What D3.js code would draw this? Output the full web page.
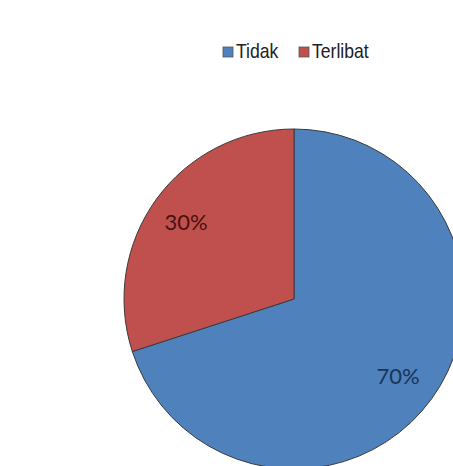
<!DOCTYPE html>
<html lang="en">
<head>
    <meta charset="UTF-8">
    <script src="https://d3js.org/d3.v7.min.js"></script>
    <title>Pie</title>
    <style>
        body { margin: 0; background: #fff; }
    </style>
</head>
<body>
    <script>
        var categories = ["Tidak", "Terlibat"]
        var values = [70, 30]
        var labels = ["70%", "30%"]
        var colors = ["#4F81BD", "#C0504D"]
        var labelColors = ["#18345a", "#4a1010"]

        var width = 453, height = 466
        var cx = 294, cy = 299, r = 170

        var svg = d3.select("body")
            .append("svg")
            .attr("width", width)
            .attr("height", height)

        var data = categories.map(function (c, i) {
            return { name: c, value: values[i], label: labels[i], color: colors[i], tc: labelColors[i] }
        })

        var pie = d3.pie().sort(null).value(function (d) { return d.value })
        var arc = d3.arc().innerRadius(0).outerRadius(r)
        var labelArc = d3.arc().innerRadius(131).outerRadius(131)

        var g = svg.append("g").attr("transform", "translate(" + cx + "," + cy + ")")

        g.selectAll("path")
            .data(pie(data))
            .join("path")
            .attr("d", arc)
            .attr("fill", function (d) { return d.data.color })
            .attr("stroke", "#3b3b3b")
            .attr("stroke-width", 1)

        g.selectAll("text")
            .data(pie(data))
            .join("text")
            .attr("transform", function (d) {
                var c = labelArc.centroid(d)
                return "translate(" + (c[0] - 2) + "," + c[1] + ")"
            })
            .attr("text-anchor", "middle")
            .attr("dy", "0.36em")
            .attr("font-family", "Lato, 'Open Sans', sans-serif")
            .attr("font-size", 22)
            .attr("fill", function (d) { return d.data.tc })
            .text(function (d) { return d.data.label })

        // legend
        var legendX = [223, 299]
        var legend = svg.selectAll(".leg")
            .data(data)
            .join("g")
            .attr("class", "leg")
            .attr("transform", function (d, i) { return "translate(" + legendX[i] + ",47)" })

        legend.append("rect")
            .attr("width", 10)
            .attr("height", 10)
            .attr("fill", function (d) { return d.color })
            .attr("stroke", "#555")
            .attr("stroke-width", 0.8)

        legend.append("text")
            .attr("transform", "translate(13,11) scale(0.88,1)")
            .attr("font-family", "'Liberation Sans', Arial, sans-serif")
            .attr("font-size", 20)
            .attr("fill", "#222")
            .text(function (d) { return d.name })
    </script>
</body>
</html>
